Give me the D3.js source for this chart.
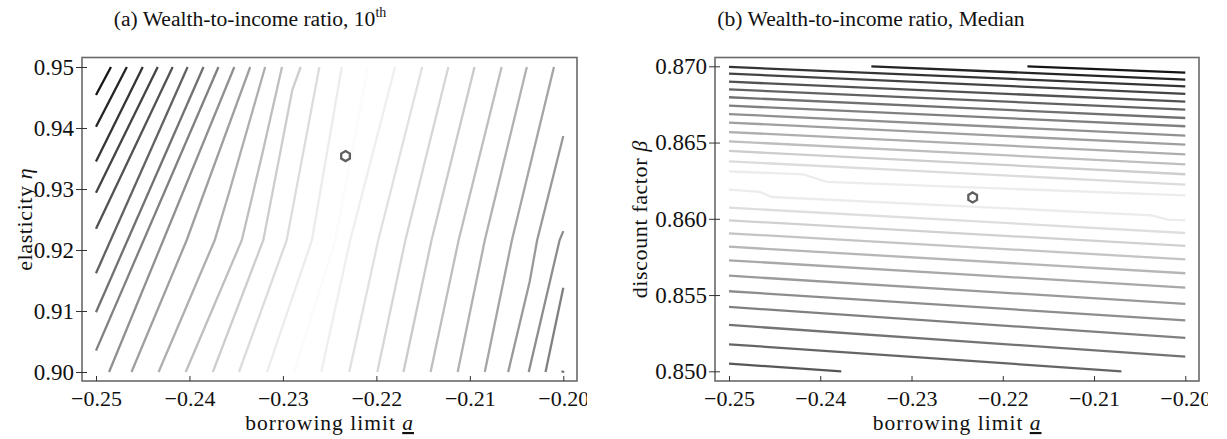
<!DOCTYPE html>
<html>
<head>
<meta charset="utf-8">
<script src="https://cdn.jsdelivr.net/npm/d3@7"></script>
<style>
  body { margin: 0; background: #fff; }
  svg text { font-family: "Liberation Serif", "Times New Roman", serif; fill: #111; }
</style>
</head>
<body>
<svg id="chart" width="1227" height="439"></svg>
<script>
// ---- data ----
var aTicks = [-0.25, -0.24, -0.23, -0.22, -0.21, -0.20];
var etaTicks = [0.90, 0.91, 0.92, 0.93, 0.94, 0.95];
var betaTicks = [0.850, 0.855, 0.860, 0.865, 0.870];

// panel (a): contour lines in (borrowing limit, elasticity)
var contoursEta = [
  [[-0.25, 0.9454], [-0.2484, 0.95]],
  [[-0.25, 0.9402], [-0.2467, 0.95]],
  [[-0.25, 0.9345], [-0.2450, 0.95]],
  [[-0.25, 0.9294], [-0.2434, 0.95]],
  [[-0.25, 0.9235], [-0.2418, 0.95]],
  [[-0.25, 0.9162], [-0.2402, 0.95]],
  [[-0.25, 0.9098], [-0.2385, 0.95]],
  [[-0.25, 0.9035], [-0.2369, 0.95]],
  [[-0.2486, 0.90], [-0.2428, 0.9216], [-0.2352, 0.95]],
  [[-0.2462, 0.90], [-0.2403, 0.9216], [-0.2335, 0.95]],
  [[-0.2433, 0.90], [-0.2373, 0.9216], [-0.2358, 0.9292], [-0.2319, 0.95]],
  [[-0.2404, 0.90], [-0.2344, 0.9216], [-0.2322, 0.9358], [-0.2301, 0.95]],
  [[-0.2375, 0.90], [-0.2321, 0.9216], [-0.2290, 0.9462], [-0.2281, 0.95]],
  [[-0.2347, 0.90], [-0.2296, 0.9216], [-0.2261, 0.95]],
  [[-0.2317, 0.90], [-0.2269, 0.9216], [-0.2237, 0.95]],
  [[-0.2288, 0.90], [-0.2244, 0.9216], [-0.2209, 0.95]],
  [[-0.2259, 0.90], [-0.2228, 0.9216], [-0.2180, 0.95]],
  [[-0.2229, 0.90], [-0.2198, 0.9216], [-0.2151, 0.95]],
  [[-0.2199, 0.90], [-0.2169, 0.9216], [-0.2123, 0.95]],
  [[-0.2171, 0.90], [-0.2141, 0.9216], [-0.2095, 0.95]],
  [[-0.2142, 0.90], [-0.2112, 0.9216], [-0.2066, 0.95]],
  [[-0.2113, 0.90], [-0.2084, 0.9216], [-0.2039, 0.95]],
  [[-0.2084, 0.90], [-0.2055, 0.9216], [-0.2010, 0.95]],
  [[-0.2059, 0.90], [-0.2036, 0.9148], [-0.2028, 0.9216], [-0.20, 0.9387]],
  [[-0.2037, 0.90], [-0.2004, 0.9216], [-0.20, 0.9231]],
  [[-0.2019, 0.90], [-0.20, 0.9138]],
  [[-0.2002, 0.9001], [-0.1999, 0.90]]
];
// contour level of each line, counted from the calibrated level (0 = lightest)
var levelsEta = [15, 14, 13, 12, 11, 10, 9, 8, 7, 6, 5, 4, 3, 2, 1, 0,
                 0.8, 1.7, 2.4, 3.2, 4, 4.8, 5.6, 6.4, 7.2, 8, 8.8];

// panel (b): contour lines in (borrowing limit, discount factor)
var contoursBeta = [
  [[-0.2173, 0.8700], [-0.20, 0.86958]],
  [[-0.2344, 0.8700], [-0.20, 0.86913]],
  [[-0.25, 0.86996], [-0.20, 0.86869]],
  [[-0.25, 0.86952], [-0.20, 0.86819]],
  [[-0.25, 0.86899], [-0.20, 0.86768]],
  [[-0.25, 0.86849], [-0.20, 0.86716]],
  [[-0.25, 0.86797], [-0.20, 0.86661]],
  [[-0.25, 0.86742], [-0.20, 0.86607]],
  [[-0.25, 0.86687], [-0.20, 0.86545]],
  [[-0.25, 0.86631], [-0.20, 0.86486]],
  [[-0.25, 0.86569], [-0.20, 0.86423]],
  [[-0.25, 0.86508], [-0.20, 0.86357]],
  [[-0.25, 0.86445], [-0.20, 0.86292]],
  [[-0.25, 0.86377], [-0.20, 0.86224]],
  [[-0.25, 0.86311], [-0.2419, 0.86292], [-0.2393, 0.86242], [-0.20, 0.86154]],
  [[-0.25, 0.86191], [-0.2466, 0.86176], [-0.2453, 0.86143], [-0.2037, 0.86023], [-0.2019, 0.85995], [-0.20, 0.8599]],
  [[-0.25, 0.86073], [-0.20, 0.85907]],
  [[-0.25, 0.85990], [-0.20, 0.85822]],
  [[-0.25, 0.85905], [-0.20, 0.85734]],
  [[-0.25, 0.85817], [-0.20, 0.85643]],
  [[-0.25, 0.85728], [-0.20, 0.85549]],
  [[-0.25, 0.85627], [-0.20, 0.85442]],
  [[-0.25, 0.85525], [-0.20, 0.85334]],
  [[-0.25, 0.85422], [-0.20, 0.85219]],
  [[-0.25, 0.85304], [-0.20, 0.85096]],
  [[-0.25, 0.85177], [-0.2070, 0.8500]],
  [[-0.25, 0.85050], [-0.2377, 0.8500]]
];
var levelsBeta = [15, 14, 13, 12, 11, 10, 9, 8, 7, 6, 5, 4, 3, 2, 1,
                  1, 1.9, 2.8, 3.6, 4.5, 5.4, 6.3, 7.2, 8, 8.9, 9.8, 10.7];

// calibrated point (hexagon)
var calibEta = [-0.2233, 0.9354];
var calibBeta = [-0.2233, 0.8614];

// ---- drawing ----
var svg = d3.select('#chart');
var grey = d3.scaleLinear().domain([0, 15]).range(['#fbfbfb', '#151515']);
var fmtA = d3.format('.2f');
var serif = '"Liberation Serif", "Times New Roman", serif';

var defs = svg.append('defs');
defs.append('clipPath').attr('id', 'clipA').append('rect')
  .attr('x', 0).attr('y', 0).attr('width', 587).attr('height', 439);
defs.append('clipPath').attr('id', 'clipB').append('rect')
  .attr('x', 600).attr('y', 0).attr('width', 608).attr('height', 439);

function hexPath(cx, cy, r) {
  var pts = d3.range(6).map(function(k) {
    var ang = (-90 + k * 60) * Math.PI / 180;
    return [cx + r * Math.cos(ang), cy + r * Math.sin(ang)];
  });
  return 'M' + pts.join('L') + 'Z';
}

function drawPanel(p) {
  var g = svg.append('g').attr('clip-path', 'url(#' + p.clip + ')');
  var x = d3.scaleLinear().domain([-0.25, -0.20]).range(p.xRange);
  var y = d3.scaleLinear().domain(p.yDomain).range(p.yRange);

  // contour lines
  var line = d3.line().x(function(d) { return x(d[0]); }).y(function(d) { return y(d[1]); });
  g.selectAll('path.contour')
    .data(p.contours)
    .enter()
    .append('path')
    .attr('class', 'contour')
    .attr('d', line)
    .attr('fill', 'none')
    .attr('stroke', function(d, i) { return grey(p.levels[i]); })
    .attr('stroke-width', 2.3)
    .attr('stroke-linecap', 'butt');

  // hexagon marker
  g.append('path')
    .attr('d', hexPath(x(p.calib[0]), y(p.calib[1]), 5))
    .attr('fill', '#fff')
    .attr('stroke', '#5f5f5f')
    .attr('stroke-width', 2.3);

  // frame
  g.append('rect')
    .attr('x', p.box[0]).attr('y', p.box[1])
    .attr('width', p.box[2] - p.box[0]).attr('height', p.box[3] - p.box[1])
    .attr('fill', 'none')
    .attr('stroke', '#6a6a6a')
    .attr('stroke-width', 1.6);

  // x axis (ticks pointing inward)
  var xAxis = d3.axisBottom(x).tickValues(aTicks).tickFormat(fmtA)
    .tickSizeInner(-5).tickSizeOuter(0).tickPadding(9);
  var gx = g.append('g').attr('transform', 'translate(0,' + p.box[3] + ')').call(xAxis);
  gx.attr('font-family', null).attr('font-size', null);
  gx.select('.domain').remove();
  gx.selectAll('.tick line').attr('stroke', '#333');
  gx.selectAll('.tick text')
    .style('font-family', serif).style('font-size', '22px')
    .attr('fill', '#111');

  // y axis (ticks crossing the frame)
  var yAxis = d3.axisLeft(y).tickValues(p.yTicks).tickFormat(d3.format(p.yFmt))
    .tickSizeInner(6).tickSizeOuter(0).tickPadding(2);
  var gy = g.append('g').attr('transform', 'translate(' + p.box[0] + ',0)').call(yAxis);
  gy.attr('font-family', null).attr('font-size', null);
  gy.select('.domain').remove();
  gy.selectAll('.tick line').attr('x1', 5).attr('x2', -6).attr('stroke', '#333');
  gy.selectAll('.tick text')
    .style('font-family', serif).style('font-size', '23px')
    .attr('fill', '#111');

  // x label
  var xl = g.append('text')
    .attr('x', (p.xRange[0] + p.xRange[1]) / 2).attr('y', 430)
    .attr('text-anchor', 'middle').style('font-size', '21.5px').attr('letter-spacing', 1);
  xl.append('tspan').text('borrowing limit ');
  xl.append('tspan').attr('font-style', 'italic').style('text-decoration', 'underline').text('a');

  // y label
  var yl = g.append('text')
    .attr('transform', 'translate(' + p.yLabelX + ',' + ((p.box[1] + p.box[3]) / 2) + ') rotate(-90)')
    .attr('text-anchor', 'middle').style('font-size', '22px').attr('letter-spacing', 0.6);
  yl.append('tspan').text(p.yLabel + ' ');
  yl.append('tspan').attr('font-style', 'italic').text(p.yGreek);

  // title
  var t = svg.append('text')
    .attr('x', p.titleX).attr('y', 26)
    .attr('text-anchor', 'middle').style('font-size', '21.6px');
  t.append('tspan').text(p.title);
  if (p.titleSup) {
    t.append('tspan').style('font-size', '14px').attr('dy', -9).text(p.titleSup);
  }
}

drawPanel({
  clip: 'clipA',
  xRange: [96, 563.3],
  yDomain: [0.90, 0.95],
  yRange: [372, 67],
  box: [82, 57.5, 577, 381],
  yTicks: etaTicks,
  yFmt: '.2f',
  contours: contoursEta,
  levels: levelsEta,
  calib: calibEta,
  yLabel: 'elasticity',
  yGreek: 'η',
  yLabelX: 32,
  title: '(a) Wealth-to-income ratio, 10',
  titleSup: 'th',
  titleX: 250
});

drawPanel({
  clip: 'clipB',
  xRange: [729, 1185.3],
  yDomain: [0.850, 0.870],
  yRange: [371.3, 66.3],
  box: [715, 57.5, 1199, 381],
  yTicks: betaTicks,
  yFmt: '.3f',
  contours: contoursBeta,
  levels: levelsBeta,
  calib: calibBeta,
  yLabel: 'discount factor',
  yGreek: 'β',
  yLabelX: 647,
  title: '(b) Wealth-to-income ratio, Median',
  titleSup: null,
  titleX: 871
});
</script>
</body>
</html>
